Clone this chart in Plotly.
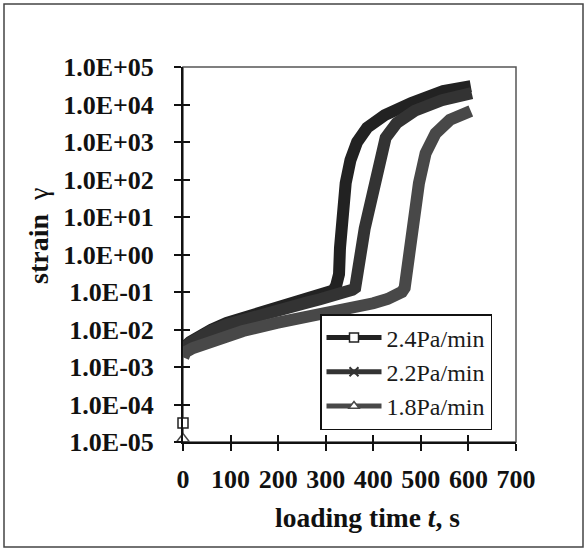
import plotly.graph_objects as go

# ---------------- data ----------------
t_24 = [0.5, 5, 15, 36, 60, 92, 130, 162, 200, 232, 260, 288, 305, 316, 322, 328, 330, 332, 334, 342, 352, 366, 387, 424, 480, 547, 605]
g_24 = [2.3e-3, 3.6e-3, 4.7e-3, 7.1e-3, 1.0e-2, 1.5e-2, 2.1e-2, 2.7e-2, 3.6e-2, 4.6e-2, 5.8e-2, 7.4e-2, 9.0e-2, 0.11, 0.15, 0.3, 1.5, 6, 23, 80, 330, 1.0e3, 2.4e3, 5.2e3, 1.1e4, 2.3e4, 3.1e4]

t_22 = [0.5, 5, 15, 36, 60, 92, 130, 162, 200, 232, 260, 288, 320, 345, 356, 362, 367, 372, 377, 382, 388, 395, 401, 412, 426, 449, 487, 544, 607]
g_22 = [2.1e-3, 3.3e-3, 4.4e-3, 6.6e-3, 9.3e-3, 1.35e-2, 1.9e-2, 2.5e-2, 3.3e-2, 4.2e-2, 5.2e-2, 6.4e-2, 8.0e-2, 0.1, 0.115, 0.13, 0.25, 0.7, 2, 5, 12, 35, 81, 400, 1.3e3, 3.2e3, 6.8e3, 1.3e4, 2.0e4]

t_18 = [0.5, 5, 21, 56, 126, 197, 267, 336, 372, 400, 430, 450, 460, 466, 470, 474, 478, 485, 496, 510, 531, 561, 605]
g_18 = [1.8e-3, 2.5e-3, 3.2e-3, 4.7e-3, 9.1e-3, 1.5e-2, 2.2e-2, 3.3e-2, 4.1e-2, 5.0e-2, 6.5e-2, 8.0e-2, 0.1, 0.13, 0.3, 1.0, 3, 10, 80, 500, 1.7e3, 3.9e3, 6.7e3]

# initial (t = 0) readings shown as isolated markers
t0_24 = [0]
g0_24 = [3.2e-5]
t0_18 = [0]
g0_18 = [1.2e-5]

series_names = ["2.4Pa/min", "2.2Pa/min", "1.8Pa/min"]
x_ticks = [0, 100, 200, 300, 400, 500, 600, 700]
y_ticks = [1e-5, 1e-4, 1e-3, 1e-2, 1e-1, 1e0, 1e1, 1e2, 1e3, 1e4, 1e5]
y_ticktext = ["1.0E-05", "1.0E-04", "1.0E-03", "1.0E-02", "1.0E-01", "1.0E+00",
              "1.0E+01", "1.0E+02", "1.0E+03", "1.0E+04", "1.0E+05"]

# ---------------- styling ----------------
FONT = "Times New Roman, Liberation Serif, serif"
colors = ["#222222", "#333333", "#484848"]
symbols = ["square", "x-thin", "triangle-up"]
LW = 12
TICKC = "#111111"

fig = go.Figure()

for t, g, c in [(t_24, g_24, colors[0]), (t_22, g_22, colors[1]), (t_18, g_18, colors[2])]:
    fig.add_trace(go.Scatter(x=t, y=g, mode="lines", showlegend=False,
                             line=dict(color=c, width=LW)))

fig.add_trace(go.Scatter(x=t0_24, y=g0_24, mode="markers", showlegend=False, cliponaxis=False,
                         marker=dict(symbol="square", size=10, color="white",
                                     line=dict(color=colors[0], width=1.5))))
fig.add_trace(go.Scatter(x=t0_18, y=g0_18, mode="markers", showlegend=False, cliponaxis=False,
                         marker=dict(symbol="triangle-up", size=11, color="white",
                                     line=dict(color=colors[2], width=1.5))))

# legend entries
for name, c, s in zip(series_names, colors, symbols):
    mk = dict(symbol=s, size=9, color="white", line=dict(color=c, width=1.5))
    if s == "x-thin":
        mk = dict(symbol="x-thin", size=9, color=c, line=dict(color=c, width=2))
    fig.add_trace(go.Scatter(x=[None], y=[None], mode="lines+markers", name=name,
                             line=dict(color=c, width=5), marker=mk))

# invisible trace so the overlay (cross-tick) axes get drawn
fig.add_trace(go.Scatter(x=t0_18, y=g0_18, xaxis="x2", yaxis="y2", mode="markers",
                         showlegend=False, hoverinfo="skip",
                         marker=dict(opacity=0, size=1)))

L, R, T, B = 183, 516, 67, 442
W, H = 587, 551

fig.update_layout(
    width=W, height=H,
    margin=dict(l=L, r=W - R, t=T, b=H - B, pad=0),
    paper_bgcolor="white", plot_bgcolor="white",
    font=dict(family=FONT, color="#111111", size=24),
    showlegend=True,
    legend=dict(x=(492 - L) / (R - L), xanchor="right",
                y=(B - 372) / (B - T), yanchor="middle",
                bgcolor="white", bordercolor="#111111", borderwidth=1.5,
                font=dict(family=FONT, size=24, color="#1a1a1a"),
                itemwidth=55, tracegroupgap=0),
    xaxis=dict(range=[0, 700], tickvals=x_ticks, ticks="outside", ticklen=7,
               tickwidth=2, tickcolor=TICKC, showline=True, linecolor="#111111",
               linewidth=2, showgrid=False, zeroline=False, ticklabelstandoff=6,
               tickfont=dict(family=FONT, size=26, color="#111111", weight="bold")),
    yaxis=dict(type="log", range=[-5, 5], tickvals=y_ticks, ticktext=y_ticktext,
               ticks="outside", ticklen=7, tickwidth=2, tickcolor=TICKC,
               showline=True, linecolor="#111111", linewidth=2, showgrid=False,
               zeroline=False, ticklabelstandoff=15,
               tickfont=dict(family=FONT, size=26, color="#111111", weight="bold")),
    xaxis2=dict(overlaying="x", anchor="y2", range=[0, 700], tickvals=x_ticks,
                ticks="inside", ticklen=7, tickwidth=2, tickcolor=TICKC,
                showticklabels=False, showline=False, showgrid=False, zeroline=False),
    yaxis2=dict(overlaying="y", anchor="x2", type="log", range=[-5, 5], tickvals=y_ticks,
                ticks="inside", ticklen=7, tickwidth=2, tickcolor=TICKC,
                showticklabels=False, showline=False, showgrid=False, zeroline=False),
    shapes=[
        dict(type="rect", xref="paper", yref="paper", x0=0, x1=1, y0=0, y1=1,
             line=dict(color="#555555", width=1.5), layer="below"),
        dict(type="rect", xref="paper", yref="paper",
             x0=(4 - L) / (R - L), x1=(583 - L) / (R - L),
             y0=(B - 547) / (B - T), y1=(B - 4) / (B - T),
             line=dict(color="#444444", width=1.5), layer="below"),
    ],
    annotations=[
        dict(text="<b>loading time <i>t</i>, s</b>", xref="paper", yref="paper",
             x=(367 - L) / (R - L), y=(B - 517) / (B - T), showarrow=False,
             xanchor="center", yanchor="middle",
             font=dict(family=FONT, size=27.5, color="#111111")),
        dict(text="<b>strain</b>  γ", xref="paper", yref="paper",
             x=(38 - L) / (R - L), y=(B - 236) / (B - T), showarrow=False,
             textangle=-90, xanchor="center", yanchor="middle",
             font=dict(family=FONT, size=28, color="#111111")),
    ],
)

fig.write_html("out.html", config={"displayModeBar": False},
               post_script="document.body.style.margin='0';")
